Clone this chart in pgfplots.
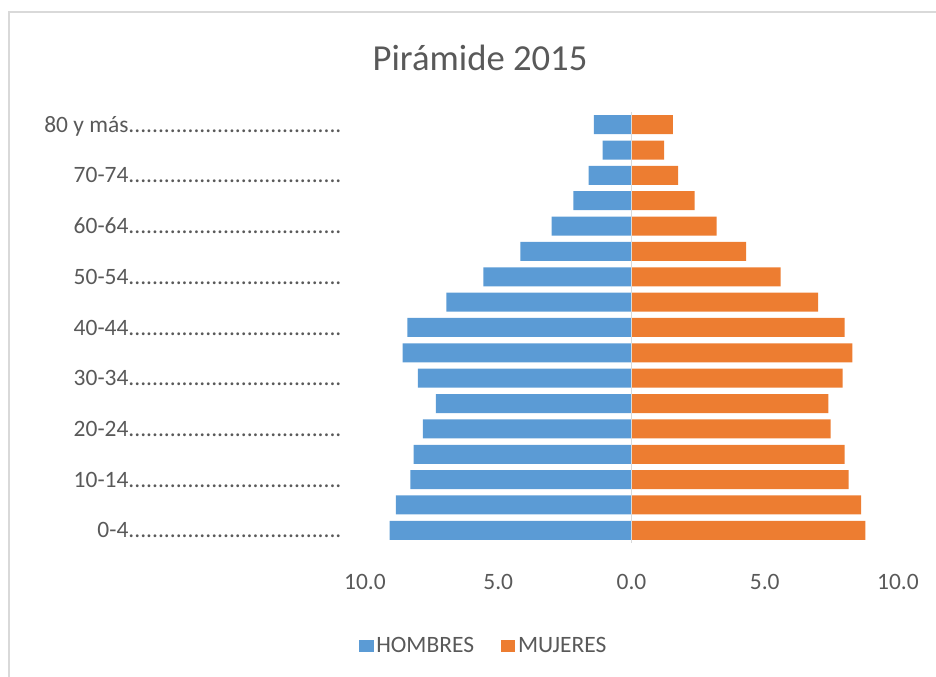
\documentclass[border=0pt]{standalone}
\usepackage{pgfplots}
\pgfplotsset{compat=1.18}
\usepackage{fontspec}
\setmainfont{Carlito}
\definecolor{hblue}{RGB}{91,155,213}
\definecolor{morange}{RGB}{237,125,49}
\definecolor{txtgray}{RGB}{89,89,89}
\definecolor{linegray}{RGB}{217,217,217}
\newcommand{\dd}{....................................}
\begin{document}
\begin{tikzpicture}
\path[use as bounding box] (0,0) rectangle (702pt,507.75pt);
\draw[linegray, line width=1pt] (6.75pt,-5pt) -- (6.75pt,498.75pt) -- (710pt,498.75pt);
\node[txtgray, font=\fontsize{27.5pt}{30pt}\selectfont] at (360pt,464.25pt) {Pirámide 2015};
\begin{axis}[
  at={(273.75pt,100.5pt)}, anchor=south west,
  scale only axis, width=399.75pt, height=323.25pt,
  xmin=-10, xmax=10, ymin=-0.5, ymax=16.5,
  axis line style={draw=none},
  major tick length=0pt,
  xtick={-10,-5,0,5,10},
  xticklabels={10.0,5.0,0.0,5.0,10.0},
  ytick={0,2,4,6,8,10,12,14,16},
  yticklabels={0-4\dd,10-14\dd,20-24\dd,30-34\dd,40-44\dd,50-54\dd,60-64\dd,70-74\dd,80 y más\dd},
  ticklabel style={font=\fontsize{17.6pt}{20pt}\selectfont, text=txtgray},
  xticklabel style={anchor=center, yshift=-29.25pt},
  yticklabel style={anchor=base east, inner sep=0pt, xshift=-17.25pt, yshift=-5.7pt},
  xbar, bar width=14.25pt, bar shift=0pt,
  legend style={at={(0.2233,-0.239)}, anchor=center, draw=none, fill=none,
    font=\fontsize{17.6pt}{20pt}\selectfont, text=txtgray, legend columns=2,
    /tikz/every even column/.append style={column sep=18pt},
    legend cell align=left},
  legend image code/.code={\fill[#1] (0pt,-4.6pt) rectangle (11pt,4.6pt);},
]
\addplot[fill=hblue, draw=none] coordinates {
(-9.08,0) (-8.84,1) (-8.30,2) (-8.18,3) (-7.83,4) (-7.34,5) (-8.02,6) (-8.59,7) (-8.41,8)
(-6.95,9) (-5.56,10) (-4.17,11) (-3.00,12) (-2.18,13) (-1.61,14) (-1.08,15) (-1.41,16)};
\addlegendentry{HOMBRES}
\addplot[fill=morange, draw=none] coordinates {
(8.78,0) (8.62,1) (8.15,2) (8.00,3) (7.47,4) (7.39,5) (7.92,6) (8.29,7) (8.00,8)
(7.00,9) (5.60,10) (4.30,11) (3.19,12) (2.37,13) (1.75,14) (1.22,15) (1.55,16)};
\addlegendentry{MUJERES}
\draw[linegray, line width=1pt] (axis cs:0,-0.5) -- (axis cs:0,16.5);
\end{axis}
\end{tikzpicture}
\end{document}
